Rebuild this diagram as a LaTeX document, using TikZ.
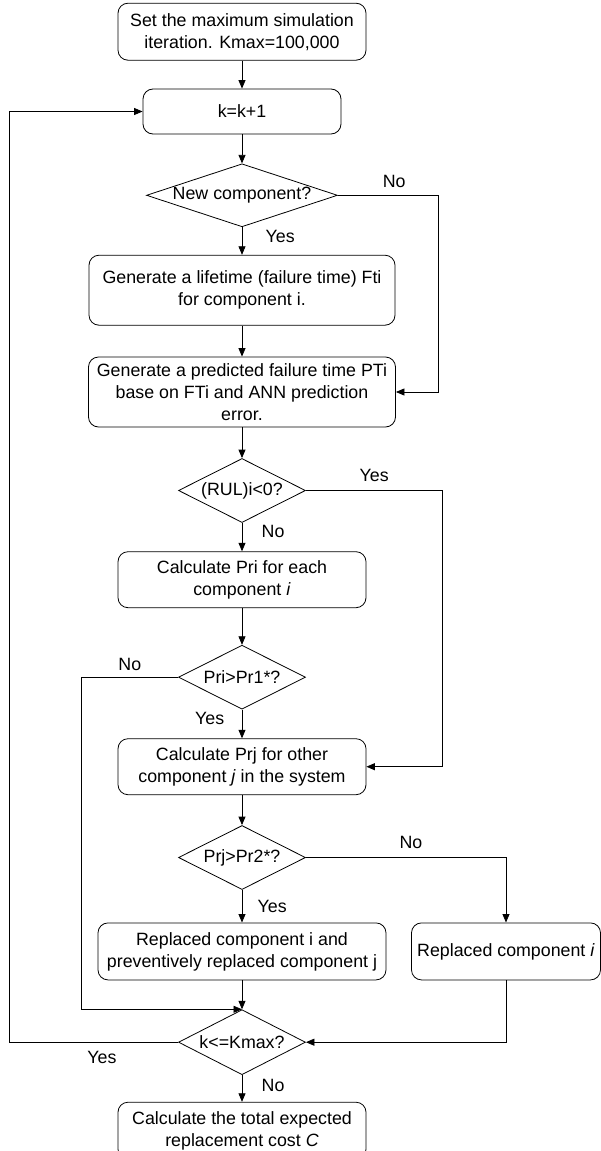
\documentclass[tikz,border=0pt]{standalone}
\usepackage{fontspec}
\setmainfont{Liberation Sans}
\usetikzlibrary{shapes,arrows.meta,positioning}

\begin{document}
\begin{tikzpicture}[x=1pt, y=-1pt, font=\fontsize{17.8}{22}\selectfont]
    \tikzstyle{block} = [rectangle, rounded corners=10pt, draw, line width=0.8pt, align=center, inner xsep=2pt, inner ysep=2pt, minimum width=248pt, minimum height=56pt]
    \tikzstyle{decision} = [diamond, draw, line width=0.8pt, aspect=2, inner sep=0pt, minimum width=127pt, minimum height=64pt]
    \tikzstyle{arrow} = [line width=0.8pt, -{Triangle[length=8.5pt, width=7pt]}]

    \useasboundingbox (0,0) rectangle (601,1151);

    % main column
    \node [block, minimum height=57pt] (start) at (242,31.7) {Set the maximum simulation\\iteration. Kmax=100,000};
    \node [block, below=28pt of start, minimum width=198pt, minimum height=45pt] (kinc) {k=k+1};
    \node [decision, below=29pt of kinc, aspect=3, minimum width=191pt, minimum height=63pt] (newcomp) {New component?};
    \node [block, below=27.6pt of newcomp, minimum width=306pt, minimum height=70pt] (lifetime) {Generate a lifetime (failure time) Fti\\for component i.};
    \node [block, below=31pt of lifetime, minimum width=307pt, minimum height=70pt] (predict) {Generate a predicted failure time PTi\\base on FTi and ANN prediction\\error.};
    \node [decision, below=30.7pt of predict] (rul) {(RUL)i<0?};
    \node [block, below=28.4pt of rul] (calcpri) {Calculate Pri for each\\component \textit{i}};
    \node [decision, below=36.7pt of calcpri] (pr1) {Pri>Pr1*?};
    \node [block, below=28.7pt of pr1] (calcprj) {Calculate Prj for other\\component \textit{j} in the system};
    \node [decision, below=30pt of calcprj] (pr2) {Prj>Pr2*?};
    \node [block, below=32.6pt of pr2, minimum width=288pt, minimum height=57pt] (replboth) {Replaced component i and\\preventively replaced component j};
    \node [block, right=24.7pt of replboth, minimum width=189pt, minimum height=57pt] (replone) {Replaced component \textit{i}};
    \node [decision, below=29pt of replboth, minimum height=65pt] (kmax) {k<=Kmax?};
    \node [block, below=26.7pt of kmax, minimum height=57pt] (total) {Calculate the total expected\\replacement cost \textit{C}};

    % connectors
    \draw [arrow] (start) -- (kinc);
    \draw [arrow] (kinc) -- (newcomp);
    \draw [arrow] (newcomp) -- node[right=20pt, yshift=4.5pt] {Yes} (lifetime);
    \draw [arrow] (newcomp.east) -- node[above=4pt, xshift=6pt] {No} ++(100.6,0) |- (predict.east);
    \draw [arrow] (lifetime) -- (predict);
    \draw [arrow] (predict) -- (rul);
    \draw [arrow] (rul.east) -- node[above=5pt] {Yes} ++(136.7,0) |- (calcprj.east);
    \draw [arrow] (rul) -- node[right=16pt, yshift=5.5pt] {No} (calcpri);
    \draw [arrow] (calcpri) -- (pr1);
    \draw [arrow] (pr1.west) -- node[above=3pt] {No} ++(-96.6,0) |- (kmax.north);
    \draw [arrow] (pr1) -- node[left=14pt, yshift=5pt] {Yes} (calcprj);
    \draw [arrow] (calcprj) -- (pr2);
    \draw [arrow] (pr2.east) -| node[pos=0.25, above=5pt, xshift=5pt] {No} (replone.north);
    \draw [arrow] (pr2) -- node[right=12pt] {Yes} (replboth);
    \draw [arrow] (replboth) -- (kmax);
    \draw [arrow] (replone.south) |- (kmax.east);
    \draw [arrow] (kmax.west) -- node[below=5pt, xshift=8pt] {Yes} ++(-168.3,0) |- (kinc.west);
    \draw [arrow] (kmax) -- node[right=16pt, yshift=3pt] {No} (total);
\end{tikzpicture}
\end{document}
